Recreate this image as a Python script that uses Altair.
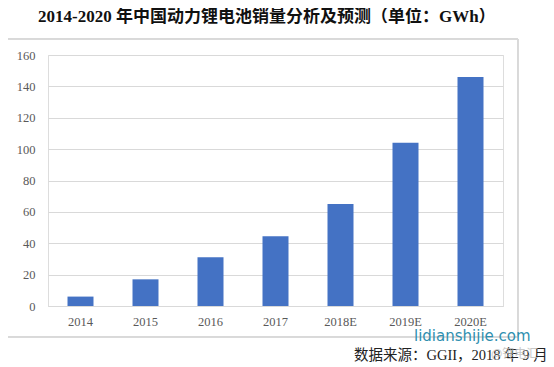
import altair as alt
import pandas as pd

years = ["2014", "2015", "2016", "2017", "2018E", "2019E", "2020E"]
sales = [6, 17, 31, 44.5, 65, 104, 146]
y_ticks = [0, 20, 40, 60, 80, 100, 120, 140, 160]

title_text = "2014-2020 年中国动力锂电池销量分析及预测（单位：GWh）"
source_text = "数据来源：GGII，2018 年 9 月"
watermark = "lidianshijie.com"
watermark2 = "@锂电汇"

df = pd.DataFrame({"year": years, "sales": sales})

SERIF = "Liberation Serif, Noto Sans CJK SC"

bars = alt.Chart(df).mark_bar(color="#4472C4").encode(
    x=alt.X("year:N", sort=years,
            scale=alt.Scale(paddingInner=0.6, paddingOuter=0.3),
            axis=alt.Axis(title=None, labelAngle=0, ticks=False, domain=True,
                          domainColor="#d9d9d9", labelFont="Liberation Serif",
                          labelFontSize=12.5, labelColor="#595959", labelPadding=9)),
    y=alt.Y("sales:Q", scale=alt.Scale(domain=[0, 160], nice=False),
            axis=alt.Axis(title=None, values=y_ticks, ticks=False, domain=False,
                          gridColor="#d9d9d9", labelFont="Liberation Serif",
                          labelFontSize=12.5, labelColor="#595959", labelPadding=13)),
)

frame = alt.Chart(df).mark_rect(fill=None, stroke="#d9d9d9", strokeWidth=1).encode(
    x=alt.value(-42), x2=alt.value(470), y=alt.value(-16), y2=alt.value(282)
)

wm = alt.Chart(pd.DataFrame({"t": [watermark]})).mark_text(
    font="DejaVu Sans", fontSize=15, color="#2f8fb0", align="left", baseline="middle"
).encode(text="t:N", x=alt.value(366), y=alt.value(281))

src = alt.Chart(pd.DataFrame({"t": [source_text]})).mark_text(
    font=SERIF, fontSize=14.5, color="#222222", align="left", baseline="middle"
).encode(text="t:N", x=alt.value(306), y=alt.value(301))

wm2 = alt.Chart(pd.DataFrame({"t": [watermark2]})).mark_text(
    font="Noto Sans CJK SC", fontSize=12, color="#bbbbbb", opacity=0.8, align="left",
    baseline="middle"
).encode(text="t:N", x=alt.value(443), y=alt.value(299))

chart = alt.layer(frame, bars, wm, src, wm2).properties(
    width=455, height=251,
    autosize=alt.AutoSizeParams(type="none"),
    padding={"left": 40, "top": 47, "right": 43, "bottom": 59},
    title=alt.TitleParams(title_text, anchor="start", frame="group", dx=-10, offset=13,
                          font=SERIF, fontSize=17, fontWeight="bold", color="#111111"),
).configure_view(stroke=None).configure(background="white")

chart.save("out.html", embed_options={"renderer": "svg", "actions": False})
